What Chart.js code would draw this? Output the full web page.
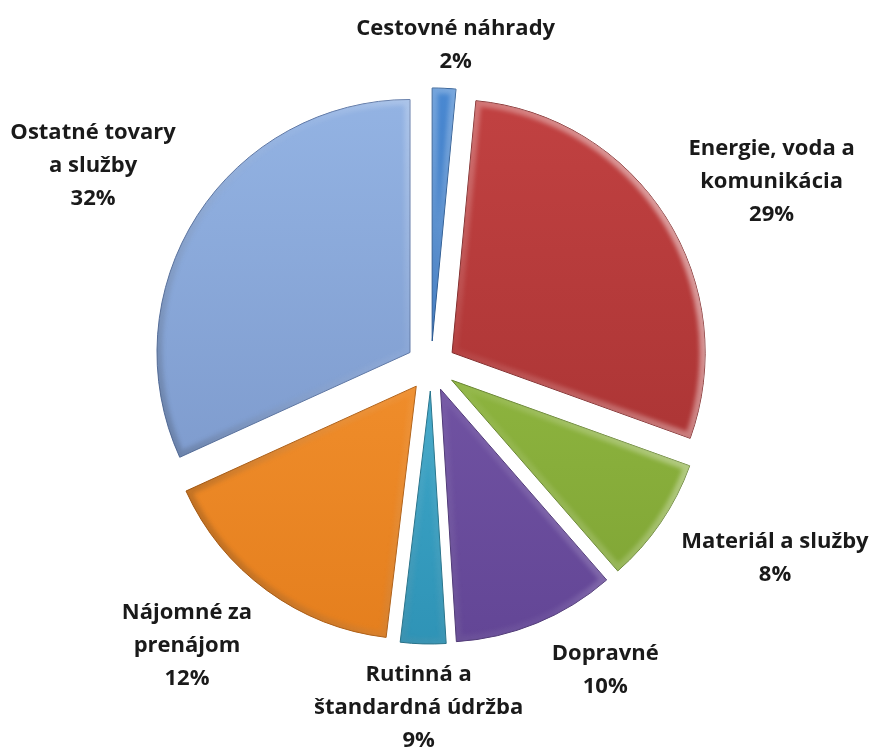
<!DOCTYPE html>
<html>
<head>
<meta charset="utf-8">
<script src="https://cdn.jsdelivr.net/npm/chart.js@4/dist/chart.umd.min.js"></script>
<style>
  html, body { margin: 0; padding: 0; background: #fff; }
  #wrap { width: 872px; height: 749px; position: relative; }
</style>
</head>
<body>
<div id="wrap"><canvas id="myChart"></canvas></div>
<script>
// categories (label lines) and slice shares as drawn in the picture
var categories = [
  ['Cestovné náhrady'],
  ['Energie, voda a', 'komunikácia'],
  ['Materiál a služby'],
  ['Dopravné'],
  ['Rutinná a', 'štandardná údržba'],
  ['Nájomné za', 'prenájom'],
  ['Ostatné tovary', 'a služby']
];
var shares = [1.5, 29, 8.1, 10.4, 2.9, 16.3, 31.8];
var percentLabels = ['2%', '29%', '8%', '10%', '9%', '12%', '32%'];

// styling
var colors = [
  ['#4b8ad3', '#2c64aa'],
  ['#c24242', '#a22f2f'],
  ['#9dc54a', '#7da233'],
  ['#7e60af', '#624595'],
  ['#4cbadb', '#2e92b5'],
  ['#fa9b38', '#e47e1d'],
  ['#94b4e4', '#7692c5']
];
var borders = ['#25558f', '#7e2424', '#62802a', '#4b3473', '#237189', '#b05f14', '#5a74a3'];
var explode = 25;
var labelShift = [1.7, 4.05, -5.2, -7.45, 0.45, 4.95, -2.05]; // degrees
var labelGap = [69, 134, 141, 98, 89, 118, 140];

function fillFor(c) {
  var chart = c.chart, area = chart.chartArea;
  var col = colors[c.dataIndex];
  if (!area) return col[0];
  var cy = (area.top + area.bottom) / 2;
  var g = chart.ctx.createLinearGradient(0, cy - 270, 0, cy + 270);
  g.addColorStop(0, col[0]);
  g.addColorStop(1, col[1]);
  return g;
}

// draws each slice pulled out from the centre, with a soft bevel
var explodePlugin = {
  id: 'explode',
  beforeDatasetDraw: function (chart, args) {
    var ctx = chart.ctx;
    args.meta.data.forEach(function (arc) {
      var p = arc.getProps(['x', 'y', 'startAngle', 'endAngle', 'outerRadius']);
      var mid = (p.startAngle + p.endAngle) / 2;
      ctx.save();
      ctx.translate(Math.cos(mid) * explode, Math.sin(mid) * explode);
      arc.draw(ctx);
      ctx.beginPath();
      ctx.moveTo(p.x, p.y);
      ctx.arc(p.x, p.y, p.outerRadius, p.startAngle, p.endAngle);
      ctx.closePath();
      ctx.clip();
      ctx.filter = 'blur(2px)';
      var g = ctx.createLinearGradient(p.x - 260, p.y + 120, p.x + 260, p.y - 120);
      g.addColorStop(0, 'rgba(0,0,0,0.22)');
      g.addColorStop(0.5, 'rgba(255,255,255,0.05)');
      g.addColorStop(1, 'rgba(255,255,255,0.55)');
      ctx.lineWidth = 11;
      ctx.strokeStyle = g;
      ctx.stroke();
      ctx.restore();
    });
    return false;
  }
};

var labelPlugin = {
  id: 'sliceLabels',
  afterDraw: function (chart) {
    var ctx = chart.ctx;
    var meta = chart.getDatasetMeta(0);
    ctx.save();
    ctx.font = 'bold 22px "Open Sans"';
    ctx.fillStyle = '#1a1a1a';
    ctx.textAlign = 'center';
    ctx.textBaseline = 'middle';
    meta.data.forEach(function (arc, i) {
      var p = arc.getProps(['x', 'y', 'startAngle', 'endAngle', 'outerRadius']);
      var a = (p.startAngle + p.endAngle) / 2 + labelShift[i] * Math.PI / 180;
      var r = p.outerRadius + labelGap[i];
      var cx = p.x + Math.cos(a) * r;
      var cy = p.y + Math.sin(a) * r;
      var lines = categories[i].concat([percentLabels[i]]);
      var lh = 33;
      lines.forEach(function (t, k) {
        ctx.fillText(t, cx, cy + (k - (lines.length - 1) / 2) * lh);
      });
    });
    ctx.restore();
  }
};

var ctx = document.getElementById('myChart').getContext('2d');
var myChart = new Chart(ctx, {
  type: 'pie',
  data: {
    labels: categories.map(function (l) { return l.join(' '); }),
    datasets: [{
      data: shares,
      backgroundColor: fillFor,
      borderColor: borders,
      borderWidth: 1,
      radius: 253
    }]
  },
  options: {
    responsive: true,
    maintainAspectRatio: false,
    animation: false,
    layout: { padding: { left: 0, right: 10, top: 0, bottom: 17 } },
    plugins: {
      legend: { display: false },
      tooltip: { enabled: false }
    }
  },
  plugins: [explodePlugin, labelPlugin]
});
</script>
</body>
</html>
